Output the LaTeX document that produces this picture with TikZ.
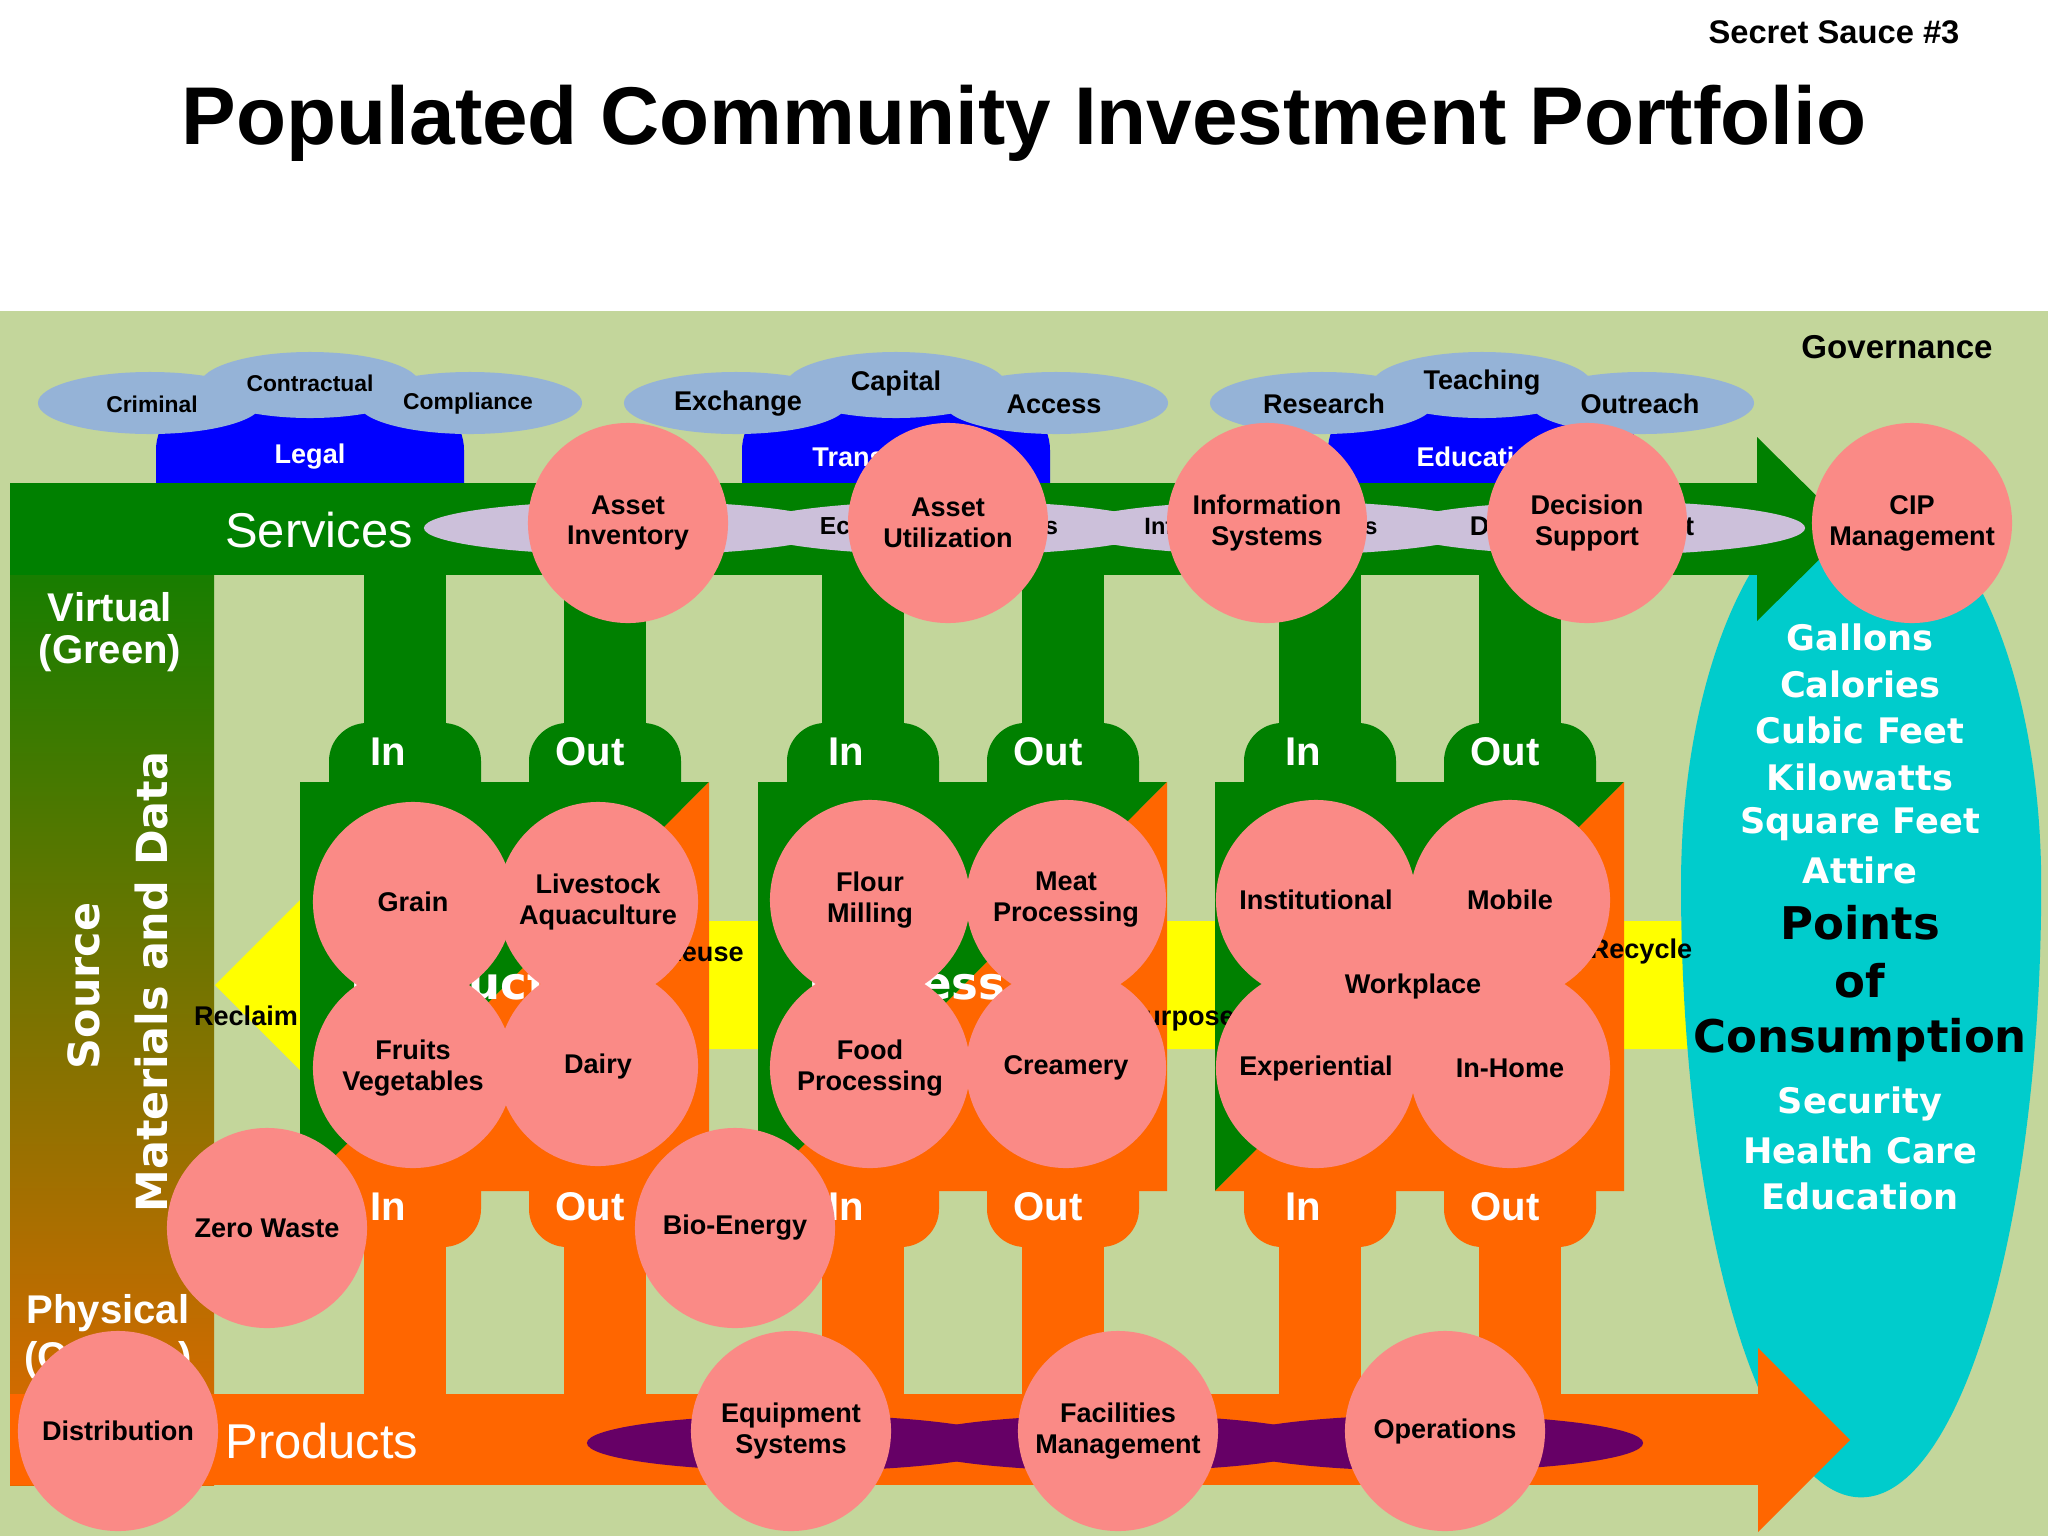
\documentclass[tikz,border=0pt]{standalone}
\usepackage{fontspec}
\setmainfont{Liberation Sans}
\newfontfamily\dvs{DejaVu Sans}
\definecolor{bgl}{RGB}{195,214,155}
\definecolor{dgrn}{RGB}{0,128,0}
\definecolor{orng}{RGB}{255,102,0}
\definecolor{yel}{RGB}{255,255,0}
\definecolor{salm}{RGB}{250,138,134}
\definecolor{lblu}{RGB}{149,179,215}
\definecolor{blu}{RGB}{0,0,255}
\definecolor{lav}{RGB}{204,192,218}
\definecolor{purp}{RGB}{102,0,102}
\definecolor{cyn}{RGB}{0,204,204}
\begin{document}
\begin{tikzpicture}[x=0.01cm,y=-0.01cm,
  circ/.style={circle,fill=salm,minimum size=2.0cm,inner sep=0pt,align=center,font=\bfseries\fontsize{7.7}{8.8}\selectfont},
  cloudtxt/.style={font=\bfseries\fontsize{7.7}{8.8}\selectfont},
  bluetxt/.style={text=white,font=\bfseries\fontsize{7.7}{8.8}\selectfont},
  iotxt/.style={text=white,font=\bfseries\fontsize{11.4}{13}\selectfont},
  boxtxt/.style={text=white,anchor=west,font=\dvs\bfseries\fontsize{12.8}{14}\selectfont},
  bandtxt/.style={font=\bfseries\fontsize{7.7}{8.8}\selectfont},
  lavtxt/.style={font=\bfseries\fontsize{7}{8}\selectfont},
  cyantxt/.style={text=white,font=\dvs\bfseries\fontsize{10}{12}\selectfont},
  poctxt/.style={font=\dvs\bfseries\fontsize{12.8}{15}\selectfont},
  sidetxt/.style={text=white,font=\bfseries\fontsize{11.4}{13}\selectfont},
  bigtxt/.style={text=white,font=\fontsize{13.9}{16}\selectfont},
  rottxt/.style={text=white,rotate=90,font=\dvs\bfseries\fontsize{12.2}{15}\selectfont},
]
\useasboundingbox (0,0) rectangle (2048,1536);
% background
\fill[white] (0,0) rectangle (2048,1536);
\fill[bgl] (0,311) rectangle (2048,1536);

% governance clouds
\foreach \cx/\a/\b/\c/\d/\fs in {310/Criminal/Contractual/Compliance/Legal/6.5,
    896/Exchange/Capital/Access/Transactions/7.7,
    1482/Research/Teaching/Outreach/Education/7.7}{
  \fill[blu,rounded corners=0.5cm] (\cx-154,400) rectangle (\cx+154,540);
  \node[bluetxt] (blob\cx) at (\cx,457) {\d};
  \fill[lblu] (\cx-160,403) ellipse [x radius=1.12cm, y radius=0.31cm];
  \fill[lblu] (\cx+160,403) ellipse [x radius=1.12cm, y radius=0.31cm];
  \fill[lblu] (\cx,385) ellipse [x radius=1.10cm, y radius=0.33cm];
  \node[font=\bfseries\fontsize{\fs}{9}\selectfont] (cla\cx) at (\cx-158,404) {\a};
  \node[font=\bfseries\fontsize{\fs}{9}\selectfont] (clb\cx) at (\cx,383) {\b};
  \node[font=\bfseries\fontsize{\fs}{9}\selectfont] (clc\cx) at (\cx+158,404) {\c};
}

% yellow recycling arrow
\fill[yel] (215,985) -- (340,860) -- (340,921) -- (1700,921) -- (1700,1049) -- (340,1049) -- (340,1110) -- cycle;

% cyan consumption egg
\fill[cyn] (1681,885) arc [start angle=180, end angle=0, x radius=1.80cm, y radius=3.95cm]
  arc [start angle=0, end angle=-180, x radius=1.80cm, y radius=6.12cm] -- cycle;

% left column gradient
\begin{scope}
  \clip (10,483) rectangle (214,1485);
  \shade[top color=dgrn,bottom color=orng] (10,470) rectangle (214,1600);
\end{scope}
% services band (green arrow)
\fill[dgrn] (10,483) rectangle (1758,575);
\fill[dgrn] (1757,437) -- (1850,529) -- (1757,621) -- cycle;
% products band (orange arrow)
\fill[orng] (10,1394) rectangle (1759,1485);
\fill[orng] (1758,1348) -- (1850,1440) -- (1758,1532) -- cycle;

% columns, bulbs, boxes
\foreach \L in {300,758,1215}{
  \foreach \o in {105,305}{
    \fill[dgrn] (\L+\o-41,570) rectangle (\L+\o+41,760);
    \fill[dgrn,rounded corners=0.38cm] (\L+\o-76,850) -- (\L+\o-76,723) -- (\L+\o+76,723) -- (\L+\o+76,850) -- cycle;
    \fill[orng] (\L+\o-41,1200) rectangle (\L+\o+41,1399);
    \fill[orng,rounded corners=0.38cm] (\L+\o-76,1120) -- (\L+\o-76,1247) -- (\L+\o+76,1247) -- (\L+\o+76,1120) -- cycle;
  }
  \fill[dgrn] (\L,782) -- (\L+409,782) -- (\L,1191) -- cycle;
  \fill[orng] (\L+409,782) -- (\L+409,1191) -- (\L,1191) -- cycle;
}

% lavender service chain
\foreach \cx in {630,952,1276,1599}
  \fill[lav] (\cx,528) ellipse [x radius=2.06cm, y radius=0.27cm];
\node[lavtxt] (lav2) at (939,528) {Ecosystem Services};
\node[lavtxt,font=\bfseries\fontsize{6.7}{8}\selectfont] (lav3) at (1261,528) {Information Systems};
\node[lavtxt,font=\bfseries\fontsize{7.7}{9}\selectfont] (lav4) at (1582,528) {Decision Support};
% purple product chain
\foreach \cx in {798,1115,1432}
  \fill[purp] (\cx,1443) ellipse [x radius=2.11cm, y radius=0.28cm];

% hidden stage words
\node[boxtxt] (w1) at (338,983) {Production};
\node[boxtxt] (w2) at (796,983) {Process};
\node[boxtxt] (w3) at (1253,983) {Preparation};

% yellow band labels
\node[bandtxt] (reclaim) at (246,1016) {Reclaim};
\node[bandtxt] (reuse) at (703,952) {Reuse};
\node[bandtxt] (repurp) at (1164,1019) {Repurpose};
\node[bandtxt] (recyc) at (1641,951) {Recycle};

% In / Out labels
\foreach \L in {300,758,1215}{
  \node[iotxt] (ti\L) at (\L+88,752) {In};
  \node[iotxt] (to\L) at (\L+290,752) {Out};
  \node[iotxt] (bi\L) at (\L+88,1207) {In};
  \node[iotxt] (bo\L) at (\L+290,1207) {Out};
}

% side labels
\node[bigtxt] (serv) at (319,530) {Services};
\node[bigtxt] (prod) at (322,1441) {Products};
\node[sidetxt] (virt) at (110,607) {Virtual};
\node[sidetxt] (virt2) at (110,653) {(Green)};
\node[sidetxt] (phys) at (108,1313) {Physical};
\node[sidetxt] (phys2) at (108,1360) {(Orange)};
\node[rottxt] (src) at (84,986) {Source};
\node[rottxt] (mat) at (152,982) {Materials and Data};

% circles
\node[circ] (ai) at (628,523) {Asset\\Inventory};
\node[circ] (au) at (948,523) {Asset\\Utilization};
\node[circ] (is) at (1267,523) {Information\\Systems};
\node[circ] (ds) at (1587,523) {Decision\\Support};
\node[circ] (cip) at (1912,523) {CIP\\Management};
\node[circ] (grain) at (413,902) {Grain};
\node[circ] (live) at (598,902) {Livestock\\Aquaculture};
\node[circ] (fruit) at (413,1068) {Fruits\\Vegetables};
\node[circ] (dairy) at (598,1066) {Dairy};
\node[circ] (flour) at (870,900) {Flour\\Milling};
\node[circ] (meat) at (1066,900) {Meat\\Processing};
\node[circ] (food) at (870,1068) {Food\\Processing};
\node[circ] (cream) at (1066,1068) {Creamery};
\node[circ] (work) at (1413,985) {};
\node[circ] (inst) at (1316,900) {Institutional};
\node[circ] (mob) at (1510,900) {Mobile};
\node[circ] (exper) at (1316,1068) {Experiential};
\node[circ] (home) at (1510,1068) {In-Home};
\node[cloudtxt] (worktxt) at (1413,986) {Workplace};
\node[circ] (zw) at (267,1228) {Zero Waste};
\node[circ] (bio) at (735,1228) {Bio-Energy};
\node[circ] (dist) at (118,1431) {Distribution};
\node[circ] (equip) at (791,1431) {Equipment\\Systems};
\node[circ] (fac) at (1118,1431) {Facilities\\Management};
\node[circ] (ops) at (1445,1431) {Operations};

% consumption texts
\node[cyantxt] (g1) at (1860,637) {Gallons};
\node[cyantxt] (g2) at (1860,684) {Calories};
\node[cyantxt] (g3) at (1860,730) {Cubic Feet};
\node[cyantxt] (g4) at (1860,777) {Kilowatts};
\node[cyantxt] (g5) at (1860,824) {Square Feet};
\node[cyantxt] (g6) at (1860,870) {Attire};
\node[poctxt] (p1) at (1860,923) {Points};
\node[poctxt] (p2) at (1860,981) {of};
\node[poctxt] (p3) at (1860,1040) {Consumption};
\node[cyantxt] (s1) at (1860,1104) {Security};
\node[cyantxt] (s2) at (1860,1150) {Health Care};
\node[cyantxt] (s3) at (1860,1196) {Education};

% headings
\node[font=\bfseries\fontsize{9.4}{11}\selectfont] (gov) at (1897,347) {Governance};
\node[anchor=base,font=\bfseries\fontsize{23.3}{27}\selectfont] (title) at (1024,144) {Populated Community Investment Portfolio};
\node[anchor=base,font=\bfseries\fontsize{9.3}{11}\selectfont] (sauce) at (1834,43) {Secret Sauce \#3};
\end{tikzpicture}
\end{document}
